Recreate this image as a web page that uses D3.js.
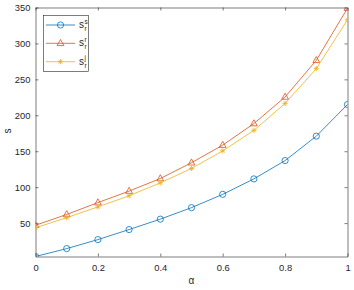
<!DOCTYPE html>
<html><head><meta charset="utf-8">
<script src="https://cdn.jsdelivr.net/npm/d3@7"></script>
<style>body{margin:0;background:#fff}svg{display:block}text{font-family:"Liberation Sans",Arial,sans-serif;fill:#262626}</style>
</head><body>
<script>
const alphas = [0,0.1,0.2,0.3,0.4,0.5,0.6,0.7,0.8,0.9,1];
const sS = [3.5,14.5,27,41,55.5,71.5,90,111.5,137,171,215];
const sR = [47,62,78.5,94.5,112,134,158.5,188.5,225.5,276.5,349];
const sJ = [43.5,57.5,72.5,88,106,126,150.5,179,216.5,265,333];
const xTicks = [0,0.2,0.4,0.6,0.8,1];
const yTicks = [50,100,150,200,250,300,350];
const seriesNames = [["s","s","r"],["s","r","r"],["s","j","r"]];

const W=354,H=290;
const L=35.5,R=347.5,T=7.5,B=256.5;
const svg=d3.select("body").append("svg").attr("width",W).attr("height",H);
const x=d3.scaleLinear().domain([0,1]).range([L,R]);
const y=d3.scaleLinear().domain([3.5,350]).range([B,T]);
const axCol="#262626", fs="9.4px";

svg.append("defs").append("clipPath").attr("id","clip").append("rect")
  .attr("x",L).attr("y",T).attr("width",R-L).attr("height",B-T);

function styleAxis(g){
  g.selectAll("path,line").attr("stroke",axCol).attr("stroke-width",0.6);
  g.selectAll("text").style("font-size",fs).attr("fill",axCol);
}
svg.append("g").attr("transform",`translate(0,${B})`)
  .call(d3.axisBottom(x).tickValues(xTicks).tickFormat(d3.format("")).tickSizeInner(-3).tickSizeOuter(0).tickPadding(7.5)).call(styleAxis);
svg.append("g").attr("transform",`translate(0,${T})`)
  .call(d3.axisTop(x).tickValues(xTicks).tickFormat("").tickSizeInner(-3).tickSizeOuter(0)).call(styleAxis);
svg.append("g").attr("transform",`translate(${L},0)`)
  .call(d3.axisLeft(y).tickValues(yTicks).tickSizeInner(-3).tickSizeOuter(0).tickPadding(5)).call(styleAxis);
svg.append("g").attr("transform",`translate(${R},0)`)
  .call(d3.axisRight(y).tickValues(yTicks).tickFormat("").tickSizeInner(-3).tickSizeOuter(0)).call(styleAxis);

const colors=["#0072BD","#D95319","#EDB120"];
const data=[sS,sR,sJ];
const line=d3.line().x((d,i)=>x(alphas[i])).y(d=>y(d));
const plot=svg.append("g").attr("clip-path","url(#clip)");

function marker(g,k,cx,cy){
  const c=colors[k];
  if(k===0){
    g.append("circle").attr("cx",cx).attr("cy",cy).attr("r",3.1).attr("fill","none").attr("stroke",c).attr("stroke-width",0.8);
  } else if(k===1){
    const r=3.8;
    g.append("path").attr("d",`M${cx},${cy-r}L${cx+r*0.9},${cy+r*0.6}L${cx-r*0.9},${cy+r*0.6}Z`)
      .attr("fill","none").attr("stroke",c).attr("stroke-width",0.8);
  } else {
    const r=2.6;
    let p="";
    for(let a=0;a<4;a++){const t=a*Math.PI/4;p+=`M${cx-r*Math.cos(t)},${cy-r*Math.sin(t)}L${cx+r*Math.cos(t)},${cy+r*Math.sin(t)}`;}
    g.append("path").attr("d",p).attr("stroke",c).attr("stroke-width",0.8);
  }
}
data.forEach((ser,k)=>{
  plot.append("path").datum(ser).attr("d",line).attr("fill","none").attr("stroke",colors[k]).attr("stroke-width",0.8);
  ser.forEach((v,i)=>marker(plot,k,x(alphas[i]),y(v)));
});

// axis labels
svg.append("text").attr("x",(L+R)/2).attr("y",284).attr("text-anchor","middle").style("font-size","10px").text("α");
svg.append("text").attr("transform","translate(11,131) rotate(-90)").attr("text-anchor","middle").style("font-size","10px").text("s");

// legend
const lg=svg.append("g");
lg.append("rect").attr("x",43.5).attr("y",15.5).attr("width",45).attr("height",56).attr("fill","#fff").attr("stroke",axCol).attr("stroke-width",0.6);
const rowsY=[25,43.3,61.7];
seriesNames.forEach((nm,k)=>{
  const ry=rowsY[k];
  lg.append("line").attr("x1",46).attr("x2",75).attr("y1",ry).attr("y2",ry).attr("stroke",colors[k]).attr("stroke-width",0.8);
  marker(lg,k,60.5,ry);
  lg.append("text").attr("x",79).attr("y",ry+3).style("font-size","10px").text(nm[0]);
  lg.append("text").attr("x",84.5).attr("y",ry-1.5).style("font-size","6.5px").text(nm[1]);
  lg.append("text").attr("x",84.5).attr("y",ry+6).style("font-size","6.5px").text(nm[2]);
});
</script>
</body></html>
